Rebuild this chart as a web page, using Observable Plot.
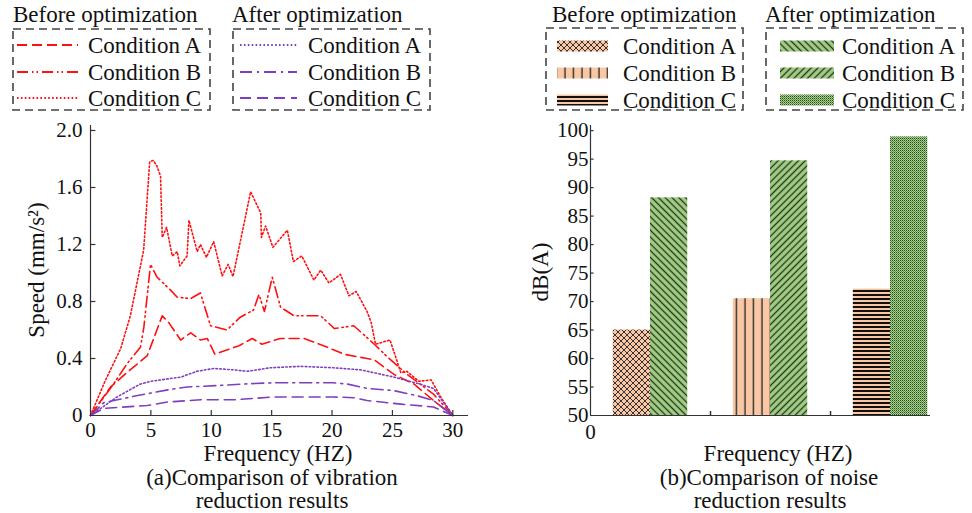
<!DOCTYPE html>
<html><head><meta charset="utf-8">
<script src="https://cdn.jsdelivr.net/npm/d3@7"></script>
<script src="https://cdn.jsdelivr.net/npm/@observablehq/plot@0.6"></script>
<style>
body{margin:0;background:#fff;}
#fig{position:relative;width:972px;height:513px;font-family:"Liberation Serif","Times New Roman",serif;color:#111;overflow:hidden;background:#fff}
.panel{position:absolute;top:110px}
.panel svg, .panel svg text{font-family:"Liberation Serif","Times New Roman",serif !important}
#overlay{position:absolute;left:0;top:0;pointer-events:none}
</style></head><body>
<svg width="0" height="0" style="position:absolute">
<defs>
<pattern id="patBeforeA" patternUnits="userSpaceOnUse" width="6" height="6"><rect width="6" height="6" fill="#f9c7a5"/><path d="M0,0L6,6M6,0L0,6" stroke="#222" stroke-width="0.9"/></pattern>
<pattern id="patBeforeB" patternUnits="userSpaceOnUse" width="8.5" height="10"><rect width="8.5" height="10" fill="#f9c7a5"/><path d="M4,0V10" stroke="#222" stroke-width="1.3"/></pattern>
<pattern id="patBeforeC" patternUnits="userSpaceOnUse" width="10" height="4"><rect width="10" height="4" fill="#f9c7a5"/><rect y="0" width="10" height="2" fill="#111"/></pattern>
<pattern id="patAfterA" patternUnits="userSpaceOnUse" width="4.8" height="4.8" patternTransform="rotate(-45)"><rect width="4.8" height="4.8" fill="#a3cd85"/><path d="M2.4,0V4.8" stroke="#1e3318" stroke-width="1.3"/></pattern>
<pattern id="patAfterB" patternUnits="userSpaceOnUse" width="4.8" height="4.8" patternTransform="rotate(45)"><rect width="4.8" height="4.8" fill="#a3cd85"/><path d="M2.4,0V4.8" stroke="#1e3318" stroke-width="1.3"/></pattern>
<pattern id="patAfterC" patternUnits="userSpaceOnUse" width="2" height="2"><rect width="2" height="2" fill="#a6d488"/><rect width="1" height="1" fill="#2a4a22"/><rect x="1" y="1" width="1" height="1" fill="#2a4a22" opacity="0.55"/></pattern>
</defs></svg>
<div id="fig"></div>
<script>
// ---------- data: (a) vibration ----------
const freqBeforeA  = [0, 1.66, 3.0, 4.7, 5.94, 6.5, 7.46, 8.3, 9.1, 9.67, 10.3, 12.3, 13.4, 14.2, 15.7, 17.7, 19.3, 21.0, 22.9, 23.5, 25.1, 26.8, 28.4, 30];
const speedBeforeA = [0, 0.2, 0.3, 0.42, 0.70, 0.65, 0.53, 0.58, 0.53, 0.54, 0.43, 0.49, 0.54, 0.50, 0.54, 0.54, 0.49, 0.43, 0.40, 0.39, 0.29, 0.22, 0.105, 0];

const freqBeforeB  = [0, 1.9, 3.0, 4.14, 4.42, 4.97, 5.52, 6.63, 7.18, 8.28, 9.1, 9.94, 11.3, 12.4, 13.5, 13.95, 14.4, 15.05, 15.74, 16.85, 19.05, 20.2, 21.8, 23.5, 24.6, 26.2, 28.4, 30];
const speedBeforeB = [0, 0.22, 0.36, 0.48, 0.62, 1.06, 0.97, 0.88, 0.83, 0.82, 0.86, 0.63, 0.60, 0.69, 0.74, 0.85, 0.73, 0.97, 0.76, 0.70, 0.70, 0.61, 0.63, 0.50, 0.41, 0.29, 0.15, 0];

const freqBeforeC  = [0, 1.2, 2.5, 3.3, 4.4, 4.9, 5.2, 5.5, 5.8, 5.94, 6.3, 6.77, 7.18, 7.4, 8.0, 8.15, 8.84, 9.1, 9.6, 10.2, 10.9, 11.4, 11.8, 13.26, 14.1, 14.15, 14.5, 15.1, 16.3, 16.8, 17.5, 18.5, 19.06, 19.75, 20.7, 21.4, 22.0, 22.9, 23.25, 23.6, 24.8, 25.7, 26.2, 27.2, 28.2, 29.0, 30];
const speedBeforeC = [0, 0.24, 0.47, 0.70, 1.16, 1.78, 1.79, 1.75, 1.68, 1.25, 1.32, 1.12, 1.15, 1.05, 1.12, 1.37, 1.15, 1.20, 1.11, 1.22, 0.98, 1.06, 0.975, 1.57, 1.42, 1.25, 1.33, 1.18, 1.30, 1.08, 1.12, 0.95, 1.02, 0.93, 0.99, 0.84, 0.87, 0.73, 0.65, 0.50, 0.53, 0.30, 0.31, 0.24, 0.25, 0.13, 0];

const freqAfterA   = [0, 2.2, 4.1, 5.0, 7.5, 8.8, 10.2, 11.9, 13.0, 14.9, 17.4, 20.1, 22.4, 25.1, 27.3, 28.4, 30];
const speedAfterA  = [0, 0.13, 0.22, 0.24, 0.27, 0.31, 0.33, 0.32, 0.31, 0.335, 0.345, 0.335, 0.32, 0.27, 0.22, 0.19, 0];

const freqAfterB   = [0, 1.1, 3.9, 6.4, 8.0, 10.5, 12.4, 15.2, 20.1, 21.3, 22.9, 25.1, 27.0, 28.4, 30];
const speedAfterB  = [0, 0.09, 0.14, 0.18, 0.20, 0.21, 0.22, 0.23, 0.23, 0.22, 0.19, 0.175, 0.14, 0.105, 0];

const freqAfterC   = [0, 1.1, 4.7, 6.4, 9.1, 11.9, 15.2, 20.1, 21.8, 22.9, 25.7, 28.4, 30];
const speedAfterC  = [0, 0.05, 0.07, 0.095, 0.11, 0.11, 0.13, 0.13, 0.125, 0.105, 0.08, 0.06, 0];

const xTicksA = [0, 5, 10, 15, 20, 25, 30];
const yTicksA = [0, 0.4, 0.8, 1.2, 1.6, 2.0];

// ---------- data: (b) noise ----------
const conditions   = ["Condition A", "Condition B", "Condition C"];
const noiseBefore  = [65.0, 70.5, 72.2];
const noiseAfter   = [88.2, 94.7, 98.9];
const yTicksB = [50, 55, 60, 65, 70, 75, 80, 85, 90, 95, 100];
const xTicksB = [1, 2];

// ---------- styles ----------
const RED = "#ff1010", PURPLE = "#7d3fbf";
const DOT = "1.6,2.3";
const seriesA = [
  {f: freqBeforeA, v: speedBeforeA, color: RED, dash: "10,5", label: "Condition A", group: 0},
  {f: freqBeforeB, v: speedBeforeB, color: RED, dash: "11,4,1.5,3,1.5,4", label: "Condition B", group: 0},
  {f: freqBeforeC, v: speedBeforeC, color: RED, dash: DOT, label: "Condition C", group: 0},
  {f: freqAfterA, v: speedAfterA, color: PURPLE, dash: DOT, label: "Condition A", group: 1},
  {f: freqAfterB, v: speedAfterB, color: PURPLE, dash: "12,5,2,5", label: "Condition B", group: 1},
  {f: freqAfterC, v: speedAfterC, color: PURPLE, dash: "11,6", label: "Condition C", group: 1}
];
const patBefore = ["patBeforeA", "patBeforeB", "patBeforeC"];
const patAfter  = ["patAfterA", "patAfterB", "patAfterC"];

const FONT = "'Liberation Serif', 'Times New Roman', serif";
const AX = "#333";
const fig = document.getElementById("fig");

// ---------- (a) ----------
const plotA = Plot.plot({
  width: 480, height: 330,
  marginLeft: 90, marginRight: 12, marginTop: 15, marginBottom: 25,
  style: {fontFamily: FONT, fontSize: "21px", color: "#111", background: "transparent", overflow: "visible"},
  x: {domain: [0, 31.3]},
  y: {domain: [0, 2.035]},
  marks: [
    ...seriesA.map(s => Plot.line(s.f.map((f, i) => ({f, v: s.v[i]})), {
      x: "f", y: "v", stroke: s.color, strokeDasharray: s.dash, strokeWidth: 1.6, curve: "linear"
    })),
    Plot.ruleX([0], {stroke: AX, strokeWidth: 1.2}),
    Plot.ruleY([0], {stroke: AX, strokeWidth: 1.2}),
    Plot.ruleY(yTicksA.filter(d => d > 0), {y: d => d, x1: 0, x2: 0.45, stroke: AX, strokeWidth: 1.2}),
    Plot.ruleX(xTicksA.filter(d => d > 0), {x: d => d, y1: 0, y2: 0.035, stroke: AX, strokeWidth: 1.2}),
    Plot.axisX(xTicksA, {tickSize: 0, tickPadding: 7, label: null, fontSize: 21, fontFamily: FONT, tickFormat: d => String(d)}),
    Plot.axisY(yTicksA, {tickSize: 0, tickPadding: 8, label: null, fontSize: 21, fontFamily: FONT, tickFormat: d => d === 0 ? "0" : d.toFixed(1)})
  ]
});
const wrapA = document.createElement("div");
wrapA.className = "panel"; wrapA.style.left = "0px";
wrapA.appendChild(plotA);
fig.appendChild(wrapA);

// ---------- (b) ----------
const BW = 0.31;
const plotB = Plot.plot({
  width: 486, height: 330,
  marginLeft: 104, marginRight: 42, marginTop: 15, marginBottom: 25,
  style: {fontFamily: FONT, fontSize: "21px", color: "#111", background: "transparent", overflow: "visible"},
  x: {domain: [0, 2.833]},
  y: {domain: [50, 100.9]},
  marks: [
    ...conditions.map((c, i) => Plot.rect([i], {
      x1: d => d + 0.5 - BW, x2: d => d + 0.5, y1: 50, y2: d => noiseBefore[d], fill: `url(#${patBefore[i]})`
    })),
    ...conditions.map((c, i) => Plot.rect([i], {
      x1: d => d + 0.5, x2: d => d + 0.5 + BW, y1: 50, y2: d => noiseAfter[d], fill: `url(#${patAfter[i]})`
    })),
    Plot.ruleX([0], {stroke: AX, strokeWidth: 1.2}),
    Plot.ruleY([50], {stroke: AX, strokeWidth: 1.2}),
    Plot.ruleY(yTicksB.filter(d => d > 50), {y: d => d, x1: 0, x2: 0.03, stroke: AX, strokeWidth: 1.2}),
    Plot.ruleX(xTicksB, {x: d => d, y1: 50, y2: 50.7, stroke: AX, strokeWidth: 1.5}),
    Plot.axisX([0], {tickSize: 0, tickPadding: 9, label: null, fontSize: 21, fontFamily: FONT, tickFormat: d => String(d)}),
    Plot.axisY(yTicksB, {tickSize: 0, tickPadding: 2, label: null, fontSize: 21, fontFamily: FONT, tickFormat: d => String(d)})
  ]
});
const wrapB = document.createElement("div");
wrapB.className = "panel"; wrapB.style.left = "486px";
wrapB.appendChild(plotB);
fig.appendChild(wrapB);

// ---------- overlay: legends, titles, captions ----------
const ov = d3.select(fig).append("svg").attr("id", "overlay")
  .attr("width", 972).attr("height", 513)
  .style("font-family", FONT).style("font-size", "23px").attr("fill", "#111");

function text(x, y, s, anchor = "start") {
  return ov.append("text").attr("x", x).attr("y", y).attr("text-anchor", anchor).text(s);
}
function box(x, y, w, h) {
  ov.append("rect").attr("x", x).attr("y", y).attr("width", w).attr("height", h)
    .attr("fill", "none").attr("stroke", "#444").attr("stroke-width", 1.6).attr("stroke-dasharray", "8,5");
}
const rowsA = [45, 72, 98];
const rowsB = [46, 73, 100];

// legend (a)
text(13, 22, "Before optimization");
text(232, 22, "After optimization");
box(13, 29, 197, 81);
box(233, 29, 197, 81);
seriesA.forEach((s, k) => {
  const r = k % 3, g = s.group;
  const x0 = g === 0 ? 17 : 240, x1 = g === 0 ? 78 : 297, tx = g === 0 ? 88 : 308;
  ov.append("line").attr("x1", x0).attr("x2", x1).attr("y1", rowsA[r]).attr("y2", rowsA[r])
    .attr("stroke", s.color).attr("stroke-width", 1.8).attr("stroke-dasharray", s.dash);
  text(tx, rowsA[r] + 8, s.label);
});

// legend (b)
text(552, 22, "Before optimization");
text(765, 22, "After optimization");
box(546, 28, 197, 82);
box(766, 28, 197, 82);
conditions.forEach((c, i) => {
  ov.append("rect").attr("x", 557).attr("y", rowsB[i] - 5.5).attr("width", 51).attr("height", 11)
    .attr("fill", `url(#${patBefore[i]})`);
  text(623, rowsB[i] + 8, c);
  ov.append("rect").attr("x", 780).attr("y", rowsB[i] - 5.5).attr("width", 54).attr("height", 11)
    .attr("fill", `url(#${patAfter[i]})`);
  text(842, rowsB[i] + 8, c);
});

// axis titles
ov.append("text").attr("transform", "translate(36,270) rotate(-90)").attr("text-anchor", "middle")
  .attr("dominant-baseline", "central").text("Speed (mm/s²)");
ov.append("text").attr("transform", "translate(540,272) rotate(-90)").attr("text-anchor", "middle")
  .attr("dominant-baseline", "central").text("dB(A)");

// x titles and captions
text(278, 461, "Frequency (HZ)", "middle");
text(272, 485, "(a)Comparison of vibration", "middle");
text(272, 508, "reduction results", "middle");
text(778, 461, "Frequency (HZ)", "middle");
text(769, 485, "(b)Comparison of noise", "middle");
text(770, 508, "reduction results", "middle");
</script>
</body></html>
